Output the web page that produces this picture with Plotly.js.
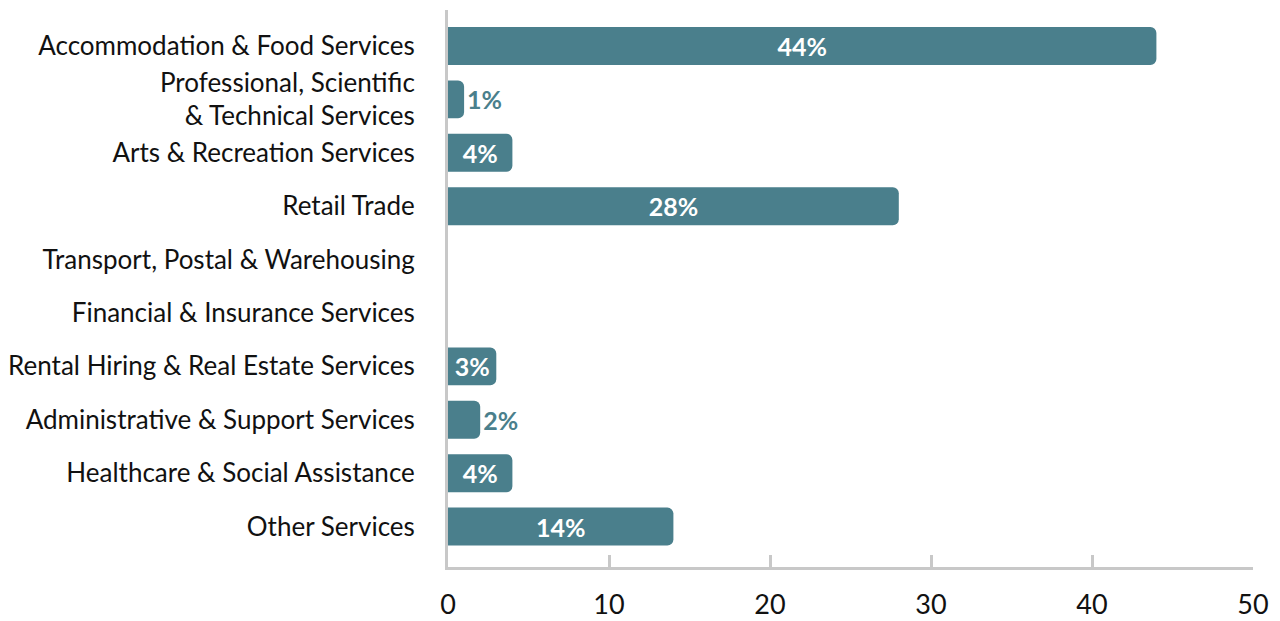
<!DOCTYPE html>
<html>
<head>
<meta charset="utf-8">
<script src="https://cdn.plot.ly/plotly-3.0.1.min.js"></script>
<style>html,body{margin:0;padding:0;background:#fff}#chart{width:1280px;height:621px}</style>
</head>
<body>
<div id="chart"></div>
<script>
const categories = [
  "Accommodation & Food Services",
  "Professional, Scientific<br>& Technical Services",
  "Arts & Recreation Services",
  "Retail Trade",
  "Transport, Postal & Warehousing",
  "Financial & Insurance Services",
  "Rental Hiring & Real Estate Services",
  "Administrative & Support Services",
  "Healthcare & Social Assistance",
  "Other Services"
];
const values = [44, 1, 4, 28, null, null, 3, 2, 4, 14];
const labels = values.map(v => v === null ? "" : v + "%");
const xTicks = [0, 10, 20, 30, 40, 50];

const teal = "#4a7f8c";
const positions = values.map(v => (v !== null && v < 3) ? "outside" : "inside");
const textColors = values.map(v => (v !== null && v < 3) ? teal : "#ffffff");

const trace = {
  type: "bar",
  orientation: "h",
  y: categories,
  x: values,
  text: labels,
  textposition: positions,
  insidetextanchor: "middle",
  constraintext: "none",
  cliponaxis: false,
  textfont: {family: "Lato, 'Open Sans', sans-serif", size: 25, color: textColors, weight: "bold"},
  marker: {color: teal, cornerradius: 6},
  hoverinfo: "skip"
};

const layout = {
  width: 1280, height: 621,
  margin: {l: 448, r: 27, t: 10, b: 54},
  paper_bgcolor: "#ffffff", plot_bgcolor: "#ffffff",
  showlegend: false,
  bargap: 0.29,
  font: {family: "Lato, 'Open Sans', sans-serif", size: 26, color: "#111111"},
  xaxis: {
    range: [0, 50], tickvals: xTicks, ticktext: xTicks.map(String),
    showgrid: false, zeroline: false,
    showline: true, linecolor: "#c8c8c8", linewidth: 3,
    ticks: "inside", ticklen: 12, tickwidth: 3, tickcolor: "#c8c8c8",
    ticklabelstandoff: 12,
    tickfont: {size: 27, color: "#111111"},
    fixedrange: true
  },
  yaxis: {
    type: "category",
    range: [9.757, -0.674],
    showgrid: false, zeroline: false,
    showline: true, linecolor: "#c8c8c8", linewidth: 3,
    ticks: "", ticklabelstandoff: 25,
    tickfont: {size: 26, color: "#111111"},
    fixedrange: true
  }
};

Plotly.newPlot("chart", [trace], layout, {displayModeBar: false, staticPlot: true});
</script>
</body>
</html>
